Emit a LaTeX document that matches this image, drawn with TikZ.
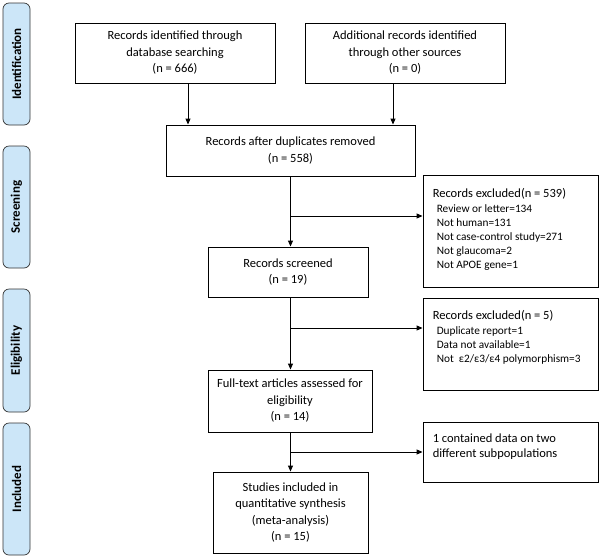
\documentclass[tikz,border=0pt]{standalone}
\usepackage{fontspec}
\setmainfont{Carlito}
\usetikzlibrary{arrows.meta,calc}
\definecolor{sidefill}{HTML}{CCE6F8}
\begin{document}
\begin{tikzpicture}[x=1pt,y=-1pt,
  box/.style={draw,line width=0.9pt,inner sep=0pt,align=center,
    font=\fontsize{12.5}{16.5}\selectfont},
  exbox/.style={draw,line width=0.9pt,inner sep=0pt},
  extext/.style={anchor=north west,inner sep=0pt,align=left,
    font=\fontsize{12.5}{14}\selectfont},
  sidebox/.style={draw=black!80,line width=0.7pt,fill=sidefill,rounded corners=6pt,
    minimum width=27pt,inner sep=0pt},
  sidetext/.style={rotate=90,font=\fontsize{13}{15}\selectfont\bfseries},
  arr/.style={line width=0.9pt,-{Triangle[length=6pt,width=5pt]}},
  ln/.style={line width=0.9pt}]
\useasboundingbox (0,0) rectangle (600,558);
\newcommand{\sub}[1]{{\fontsize{11.3}{13.7}\selectfont\hspace*{4pt}#1}}
% side labels
\node[sidebox,minimum height=122pt] (s1) at (16.5,64) {};
\node[sidetext] (t1) at (s1.center) {Identification};
\node[sidebox,minimum height=122pt] (s2) at (16.5,207) {};
\node[sidetext] (t2) at (s2.center) {Screening};
\node[sidebox,minimum height=123pt] (s3) at (16.5,350.5) {};
\node[sidetext] (t3) at (s3.center) {Eligibility};
\node[sidebox,minimum height=132pt] (s4) at (16.5,489) {};
\node[sidetext] (t4) at (s4.center) {Included};
% main boxes
\node[box,minimum width=200pt,minimum height=60pt] (b1) at (175,53)
  {Records identified through\\database searching\\(n = 666)};
\node[box,minimum width=200pt,minimum height=60pt] (b2) at (405,53)
  {Additional records identified\\through other sources\\(n = 0)};
\node[box,minimum width=249pt,minimum height=51pt] (b3) at (290.5,150.5)
  {Records after duplicates removed\\(n = 558)};
\node[box,minimum width=160pt,minimum height=50pt] (b4) at (288,272)
  {Records screened\\(n = 19)};
\node[box,minimum width=164pt,minimum height=62pt] (b5) at (290,401)
  {Full-text articles assessed for\\eligibility\\(n = 14)};
\node[box,minimum width=155pt,minimum height=81pt] (b7) at (290.5,512.5)
  {Studies included in\\quantitative synthesis\\(meta-analysis)\\(n = 15)};
% exclusion boxes
\node[exbox,minimum width=175pt,minimum height=112pt] (e1) at (510.5,231) {};
\node[extext] (e1t) at ($(e1.north west)+(10,14)$)
  {Records excluded(n = 539)\\[0.5pt]
   \sub{Review or letter=134}\\[0pt]
   \sub{Not human=131}\\[0pt]
   \sub{Not case-control study=271}\\[0pt]
   \sub{Not glaucoma=2}\\[0pt]
   \sub{Not APOE gene=1}};
\node[exbox,minimum width=175pt,minimum height=92pt] (e2) at (510.5,344) {};
\node[extext] (e2t) at ($(e2.north west)+(10,13)$)
  {Records excluded(n = 5)\\[0.5pt]
   \sub{Duplicate report=1}\\[0pt]
   \sub{Data not available=1}\\[0pt]
   \sub{Not\ \ ε2/ε3/ε4 polymorphism=3}};
\node[exbox,minimum width=175pt,minimum height=60pt] (e3) at (510.5,452) {};
\node[extext] (e3t) at ($(e3.north west)+(10,12)$)
  {1 contained data on two\\[1pt]different subpopulations};
% connectors
\coordinate (c1) at (188,0);
\coordinate (c2) at (393,0);
\coordinate (sp) at (290.5,0);
\draw[arr] (b1.south -| c1) -- (b3.north -| c1);
\draw[arr] (b2.south -| c2) -- (b3.north -| c2);
\draw[arr] (b3.south -| sp) -- (b4.north -| sp);
\draw[arr] (b4.south -| sp) -- (b5.north -| sp);
\draw[arr] (b5.south -| sp) -- (b7.north -| sp);
\coordinate (j1) at (290.5,216);
\coordinate (j2) at (290.5,328);
\coordinate (j3) at (290.5,452);
\draw[arr] (j1) -- (j1 -| e1.west);
\draw[arr] (j2) -- (j2 -| e2.west);
\draw[arr] (j3) -- (j3 -| e3.west);
\end{tikzpicture}
\end{document}
